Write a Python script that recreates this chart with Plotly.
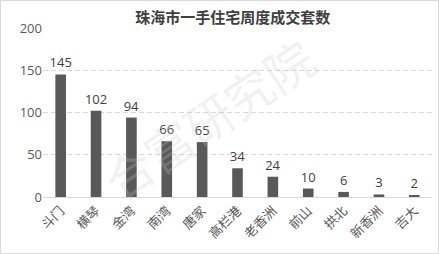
import plotly.graph_objects as go

categories = ["斗门", "横琴", "金湾", "南湾", "唐家", "高栏港", "老香洲", "前山", "拱北", "新香洲", "吉大"]
values = [145, 102, 94, 66, 65, 34, 24, 10, 6, 3, 2]
title_text = "珠海市一手住宅周度成交套数"
watermark = "合富研究院"

W, H = 439, 254
ml, mr, mt, mb = 43, 7, 28, 57
pw, ph = W - ml - mr, H - mt - mb

fig = go.Figure()
fig.add_trace(go.Bar(
    x=categories, y=values,
    marker=dict(color="#595959", line=dict(width=0)),
    width=0.3,
    text=[str(v) for v in values],
    textposition="outside",
    constraintext="none",
    textfont=dict(size=13, color="#404040", family="Open Sans, Noto Sans CJK SC"),
    cliponaxis=False,
))

fig.add_annotation(
    text=watermark, xref="paper", yref="paper",
    x=(208 - ml) / pw, y=1 - (118 - mt) / ph,
    showarrow=False, textangle=-34,
    font=dict(size=48, color="rgba(200,200,200,0.25)", family="Noto Sans CJK SC"),
)

fig.update_layout(
    width=W, height=H,
    margin=dict(l=ml, r=mr, t=mt, b=mb),
    paper_bgcolor="white", plot_bgcolor="white",
    showlegend=False,
    title=dict(text="<b>" + title_text + "</b>", x=0.53, xanchor="center", y=0.93, yanchor="middle",
               font=dict(size=15, color="#404040", family="Noto Sans CJK SC")),
    xaxis=dict(tickangle=-45, tickfont=dict(size=13, color="#595959", family="Noto Sans CJK SC"),
               showline=True, linecolor="#d9d9d9", linewidth=1, ticks="", showgrid=False),
    yaxis=dict(range=[0, 200], dtick=50, tickfont=dict(size=13, color="#595959", family="Open Sans"),
               showgrid=True, gridcolor="#d9d9d9", griddash="5px,3px", gridwidth=1,
               zeroline=False, ticks="", showline=False),
    shapes=[dict(type="rect", xref="paper", yref="paper",
                 x0=-(ml - 0.5) / pw, y0=-(mb - 0.5) / ph, x1=1 + (mr - 0.5) / pw, y1=1 + (mt - 0.5) / ph,
                 line=dict(color="#d9d9d9", width=1))],
    bargap=0.7,
)

fig.write_html("out.html")
